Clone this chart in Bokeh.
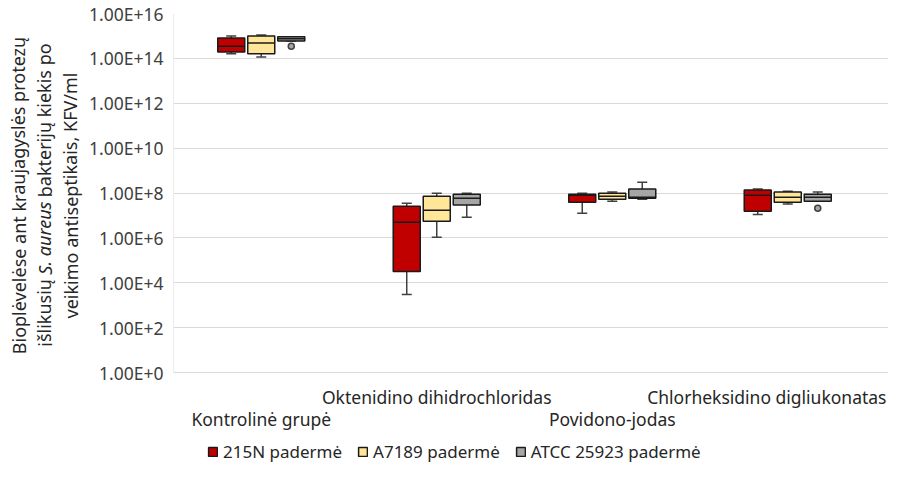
from bokeh.plotting import figure
from bokeh.layouts import row
from bokeh.models import (ColumnDataSource, FixedTicker, CustomJSTickFormatter,
                          Legend, LegendItem, Range1d)
from bokeh.core.properties import value
from bokeh.transform import dodge
from bokeh.embed import file_html
from bokeh.resources import INLINE

categories = ["Kontrolinė grupė", "Oktenidino dihidrochloridas", "Povidono-jodas",
              "Chlorheksidino digliukonatas"]
strains = ["215N padermė", "A7189 padermė", "ATCC 25923 padermė"]
colors = ["#C00000", "#FFE699", "#A6A6A6"]

# 215N padermė
n215_low = [1.6e14, 3.0e3, 1.26e7, 1.1e7]
n215_q1 = [1.9e14, 3.2e4, 3.9e7, 1.55e7]
n215_med = [3.5e14, 5.0e6, 7.9e7, 7.9e7]
n215_q3 = [8.1e14, 2.6e7, 8.9e7, 1.35e8]
n215_high = [1.0e15, 3.5e7, 9.8e7, 1.5e8]

# A7189 padermė
a7189_low = [1.15e14, 1.07e6, 4.3e7, 3.2e7]
a7189_q1 = [1.6e14, 5.5e6, 5.2e7, 3.9e7]
a7189_med = [4.9e14, 1.7e7, 7.2e7, 6.5e7]
a7189_q3 = [1.0e15, 7.2e7, 9.8e7, 1.1e8]
a7189_high = [1.1e15, 9.8e7, 1.1e8, 1.2e8]

# ATCC 25923 padermė
atcc_low = [6.0e14, 8.3e6, 5.2e7, 4.3e7]
atcc_q1 = [6.0e14, 2.9e7, 5.9e7, 4.3e7]
atcc_med = [7.4e14, 5.9e7, 6.5e7, 6.5e7]
atcc_q3 = [9.1e14, 8.9e7, 1.5e8, 8.9e7]
atcc_high = [9.1e14, 9.8e7, 3.0e8, 1.1e8]

# outliers (ATCC 25923)
outlier_cat = ["Kontrolinė grupė", "Chlorheksidino digliukonatas"]
outlier_val = [3.5e14, 2.1e7]

y_ticks = [1e0, 1e2, 1e4, 1e6, 1e8, 1e10, 1e12, 1e14, 1e16]

title_line1 = "Bioplėvelėse ant kraujagyslės protezų"
title_line2 = [("išlikusių", "normal"), ("S. aureus", "italic"), ("bakterijų kiekis po", "normal")]
title_line3 = "veikimo antiseptikais, KFV/ml"

FONT = "Noto Sans"
TXT = "#262626"
H = 464
TW = 86            # title strip width
PW = 888 - TW      # main figure width
TOP = 13           # frame top (px)
LEFT = 173         # frame left (px)
AX_BOTTOM = 372    # pixel of 1e0
CAT_PX = 175.5     # px per category
DEC = (AX_BOTTOM - TOP) / 16.0            # px per decade
y_start = 10 ** (-(H - AX_BOTTOM) / DEC)  # frame extends below 1e0 to host labels & legend
x_end = len(categories) - 0.5 + (888 - LEFT - len(categories) * CAT_PX) / CAT_PX

xi = list(range(len(categories)))
pos = dict(zip(categories, xi))

p = figure(width=PW, height=H, output_backend="svg", toolbar_location=None,
           x_range=Range1d(-0.5, x_end),
           y_axis_type="log", y_range=Range1d(y_start, 1e16),
           min_border_left=LEFT - TW, min_border_right=0, min_border_top=TOP, min_border_bottom=0)
p.outline_line_color = None
p.xgrid.grid_line_color = None
p.xaxis.visible = False
ticker = FixedTicker(ticks=y_ticks, minor_ticks=[])
p.yaxis.ticker = ticker
p.ygrid.ticker = ticker
p.ygrid.grid_line_color = "#d9d9d9"
p.ygrid.grid_line_width = 1
p.yaxis.formatter = CustomJSTickFormatter(code="return '1.00E+' + Math.round(Math.log10(tick));")
p.yaxis.major_label_text_font = FONT
p.yaxis.major_label_text_font_size = "17.5px"
p.yaxis.major_label_text_color = "#404040"
p.yaxis.major_tick_line_color = None
p.yaxis.minor_tick_line_color = None
p.yaxis.major_tick_out = 0
p.yaxis.major_tick_in = 0
p.yaxis.minor_tick_out = 0
p.yaxis.axis_line_color = None
p.yaxis.major_label_standoff = 10

# left axis line (between 1e0 and 1e16)
p.segment(x0=dodge("x", -0.5), x1=dodge("x", -0.5), y0="a", y1="b",
          source=ColumnDataSource(dict(x=xi[:1], a=y_ticks[:1], b=y_ticks[-1:])),
          line_color="#d9d9d9", line_width=1)

data = [
    (n215_low, n215_q1, n215_med, n215_q3, n215_high),
    (a7189_low, a7189_q1, a7189_med, a7189_q3, a7189_high),
    (atcc_low, atcc_q1, atcc_med, atcc_q3, atcc_high),
]
offsets = [-0.171, 0.0, 0.171]
bw = 0.154

items = []
for (lo, q1, med, q3, hi), col, name, off in zip(data, colors, strains, offsets):
    src = ColumnDataSource(dict(x=xi, cat=categories, lo=lo, q1=q1, med=med, q3=q3, hi=hi))
    xc = dodge("x", off)
    p.segment(x0=xc, x1=xc, y0="lo", y1="hi", source=src, line_color="#404040", line_width=1.5)
    p.scatter(x=xc, y="lo", source=src, marker="dash", size=10, line_color="#404040", line_width=1.5)
    p.scatter(x=xc, y="hi", source=src, marker="dash", size=10, line_color="#404040", line_width=1.5)
    r = p.vbar(x=xc, width=bw, bottom="q1", top="q3", source=src,
               fill_color=col, line_color="#1a1a1a", line_width=1.5)
    p.segment(x0=dodge("x", off - bw / 2), x1=dodge("x", off + bw / 2),
              y0="med", y1="med", source=src, line_color="#1a1a1a", line_width=1.5)
    items.append(LegendItem(label=name, renderers=[r]))

osrc = ColumnDataSource(dict(x=[pos[c] for c in outlier_cat], val=outlier_val))
p.scatter(x=dodge("x", offsets[2]), y="val", source=osrc, marker="circle",
          size=6, fill_color="#A6A6A6", line_color="#404040", line_width=1.5)

# category labels, staggered on two rows below the axis
row_y = [10 ** (-(396 - AX_BOTTOM) / DEC), 10 ** (-(418 - AX_BOTTOM) / DEC)]
lab_y = [row_y[1] if i % 2 == 0 else row_y[0] for i in xi]
n = len(categories)
p.text(x="x", y="y", text="t",
       source=ColumnDataSource(dict(x=xi[:n - 1], y=lab_y[:n - 1], t=categories[:n - 1])),
       text_align="center", text_baseline="middle", text_font=value(FONT),
       text_font_size="17.5px", text_color=TXT)
# the last label would run past the canvas edge: keep it whole, flush with the right edge
p.text(x=[x_end], y=lab_y[n - 1:], text=categories[n - 1:],
       text_align="right", text_baseline="middle", text_font=value(FONT),
       text_font_size="17.5px", text_color=TXT, x_offset=-2)

legend = Legend(items=items, orientation="horizontal", location=(34, 1),
                border_line_color=None, background_fill_alpha=0, padding=0, margin=0,
                spacing=15, glyph_width=11, glyph_height=11, label_standoff=5,
                label_text_font=FONT, label_text_font_size="17px", label_text_color=TXT,
                label_height=14)
p.add_layout(legend, "center")

# ---- y-axis title strip (three lines, italic species name) ----
t = figure(width=TW, height=H, output_backend="svg", toolbar_location=None,
           x_range=Range1d(0, TW), y_range=Range1d(0, H - TOP),
           x_axis_location=None, y_axis_location=None,
           min_border_left=0, min_border_right=0, min_border_top=TOP, min_border_bottom=0)
t.outline_line_color = None
t.grid.grid_line_color = None
fs = 18
yc = H - 195
t.text(x=[18, 70], y=[yc, yc], text=[title_line1, title_line3], angle=1.5708,
       text_align="center", text_baseline="middle", text_font=value(FONT),
       text_font_size=f"{fs}px", text_color=TXT)
# advance of each segment (in em, including the following space)
em = {"išlikusių": 4.006, "S. aureus": 4.3, "bakterijų kiekis po": 8.5}
total = sum(em[s] for s, _ in title_line2) * fs
ypos = yc - total / 2
for s, style in title_line2:
    t.text(x=[44], y=[ypos], text=[s], angle=1.5708, text_align="left",
           text_baseline="middle", text_font=value(FONT), text_font_size=f"{fs}px",
           text_font_style=style, text_color=TXT)
    ypos += em[s] * fs

open("out.html", "w").write(file_html(row(t, p), INLINE))
